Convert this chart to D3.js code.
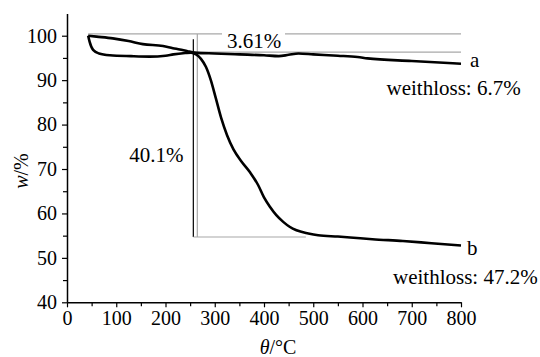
<!DOCTYPE html>
<html>
<head>
<meta charset="utf-8">
<script src="https://cdn.jsdelivr.net/npm/d3@7/dist/d3.min.js"></script>
<style>
  body { margin: 0; background: #fff; }
  svg { display: block; }
  svg text { font-family: 'Liberation Serif', 'Times New Roman', Times, 'DejaVu Serif', serif; fill: #000; }
</style>
</head>
<body>
<svg id="chart" width="540" height="357"></svg>
<script>
// TG curves, temperature (°C) vs residual mass (%)
const curveA = [
  [43, 100], [60, 99.8], [93, 99.4], [125, 98.8], [154, 98.1], [195, 97.7],
  [215, 97.2], [229, 96.9], [245, 96.5], [260, 96.2], [300, 96.0], [350, 95.8],
  [400, 95.6], [430, 95.4], [450, 95.7], [470, 96.0], [500, 95.8], [550, 95.5],
  [590, 95.2], [610, 94.9], [700, 94.3], [800, 93.7]
];
const curveB = [
  [43, 100], [46, 98.6], [53, 96.8], [65, 96.0], [87, 95.6], [130, 95.4],
  [168, 95.3], [200, 95.5], [216, 95.8], [240, 96.1], [252, 96.2], [262, 95.8],
  [272, 94.8], [282, 93.0], [292, 90.0], [302, 86.0], [313, 81.5], [325, 77.6],
  [338, 74.4], [355, 71.6], [372, 69.2], [388, 66.4], [400, 63.6], [412, 61.5],
  [425, 59.6], [439, 58.1], [452, 57.0], [466, 56.2], [490, 55.5], [510, 55.1],
  [550, 54.8], [575, 54.6], [620, 54.2], [682, 53.8], [740, 53.3], [800, 52.8]
];

const xTicks = [0, 100, 200, 300, 400, 500, 600, 700, 800];
const yTicks = [40, 50, 60, 70, 80, 90, 100];

// guide lines: [x1, y1, x2, y2] in data units, and colour
const guides = [
  { pts: [43, 100.4, 800, 100.4], color: "#a8a8a8" },
  { pts: [264, 96.3, 800, 96.3], color: "#a8a8a8" },
  { pts: [264.6, 100.4, 264.6, 54.7], color: "#a8a8a8" },
  { pts: [256.5, 99.2, 256.5, 54.7], color: "#000" },
  { pts: [256.5, 54.7, 485, 54.7], color: "#a8a8a8" }
];

const svg = d3.select("#chart");
const x = d3.scaleLinear().domain([0, 800]).range([67, 461]);
const y = d3.scaleLinear().domain([40, 105]).range([302.3, 13.5]);

// guides
guides.forEach(g => {
  svg.append("line")
    .attr("x1", x(g.pts[0])).attr("y1", y(g.pts[1]))
    .attr("x2", x(g.pts[2])).attr("y2", y(g.pts[3]))
    .attr("stroke", g.color).attr("stroke-width", 1.2);
});

// label 3.61% sits on a white patch cutting the top guide
svg.append("rect").attr("x", 222).attr("y", 30).attr("width", 63).attr("height", 10).attr("fill", "#fff");
svg.append("text").attr("x", 227).attr("y", 47.5).attr("font-size", 21).text("3.61%");
svg.append("text").attr("x", 183.5).attr("y", 161.5).attr("font-size", 21).attr("text-anchor", "end").text("40.1%");

// curves
const line = d3.line().x(d => x(d[0])).y(d => y(d[1])).curve(d3.curveMonotoneX);
[curveA, curveB].forEach(c => {
  svg.append("path").datum(c)
    .attr("d", line)
    .attr("fill", "none")
    .attr("stroke", "#000")
    .attr("stroke-width", 2.6)
    .attr("stroke-linejoin", "round");
});

// axes
const xAxis = svg.append("g").attr("transform", `translate(0,${y(40)})`)
  .call(d3.axisBottom(x).tickValues(d3.range(0, 801, 50)).tickSize(5).tickSizeOuter(0)
    .tickFormat(d => xTicks.includes(d) ? d : ""));
const yAxis = svg.append("g").attr("transform", `translate(${x(0)},0)`)
  .call(d3.axisLeft(y).tickValues(d3.range(40, 105, 5)).tickSize(5).tickSizeOuter(0)
    .tickFormat(d => yTicks.includes(d) ? d : ""));

[xAxis, yAxis].forEach(a => {
  a.attr("font-family", null).attr("font-size", null);
  a.select(".domain").attr("stroke", "#000").attr("stroke-width", 1.5);
  a.selectAll(".tick line").attr("stroke", "#000").attr("stroke-width", 1.2);
  a.selectAll(".tick text").attr("fill", "#000").attr("font-size", 20);
});
xAxis.selectAll(".tick").filter(d => !xTicks.includes(d)).select("line").attr("y2", 4);
yAxis.selectAll(".tick").filter(d => !yTicks.includes(d)).select("line").attr("x2", -4);
xAxis.selectAll(".tick text").attr("dy", "0.8em").attr("y", 7);
yAxis.selectAll(".tick text").attr("x", -10);

// axis titles
svg.append("text").attr("x", 278).attr("y", 354).attr("font-size", 20).attr("text-anchor", "middle")
  .html('<tspan font-style="italic">θ</tspan>/°C');
svg.append("text").attr("transform", "translate(28,171) rotate(-90)").attr("font-size", 20)
  .attr("text-anchor", "middle")
  .html('<tspan font-style="italic">w</tspan>/%');

// series labels
svg.append("text").attr("x", 470).attr("y", 67).attr("font-size", 21).text("a");
svg.append("text").attr("x", 386.5).attr("y", 95).attr("font-size", 21).text("weithloss: 6.7%");
svg.append("text").attr("x", 467).attr("y", 255).attr("font-size", 21).text("b");
svg.append("text").attr("x", 393).attr("y", 283.5).attr("font-size", 21).text("weithloss: 47.2%");
</script>
</body>
</html>
